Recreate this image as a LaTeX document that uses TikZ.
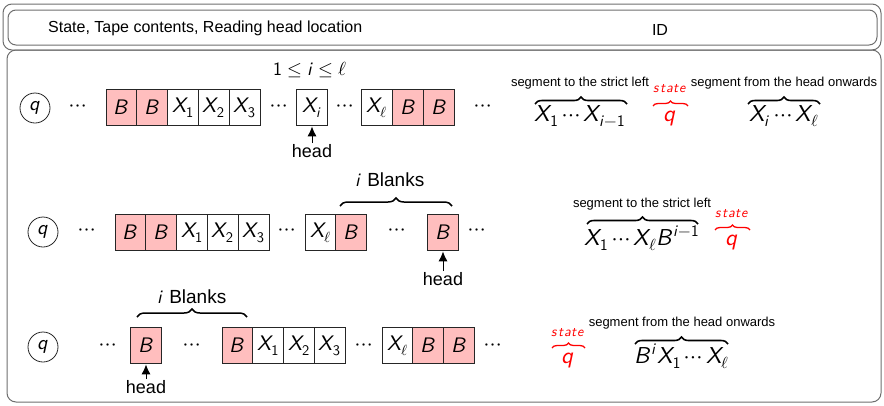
\documentclass[tikz,border=0pt]{standalone}
\usepackage{fontspec}
\usepackage{unicode-math}
\setmainfont{Liberation Sans}
\setmathfont{Latin Modern Math}
\usetikzlibrary{decorations.pathreplacing,arrows.meta}
\definecolor{blankfill}{RGB}{255,190,190}
\definecolor{framegray}{RGB}{110,110,110}
\newcommand{\tmX}{\mathsfit{X}}
\newcommand{\tmB}{\mathsfit{B}}
\newcommand{\tmi}{\mathsfit{i}}
\newcommand{\tmq}{\mathsfit{q}}
\newcommand{\tdots}{\cdots}
\tikzset{
  cell/.style={draw=black!85, line width=0.8pt, minimum width=30.8pt, minimum height=36pt, inner sep=0pt, font=\fontsize{21}{21}\selectfont},
  blankcell/.style={cell, fill=blankfill},
  stateq/.style={circle, draw=black!85, line width=0.8pt, minimum size=30pt, inner sep=0pt, font=\fontsize{20}{20}\selectfont},
  dotsnode/.style={inner sep=0pt, font=\fontsize{22}{22}\selectfont},
  headlbl/.style={inner sep=1pt, font=\fontsize{18}{18}\selectfont},
  headarrow/.style={-{Latex[length=10pt,width=9pt]}, line width=1pt, shorten >=0.5pt},
  tapebrace/.style={decorate, decoration={brace, amplitude=8pt}, line width=1.5pt},
  idbrace/.style={decorate, decoration={brace, amplitude=7pt}, line width=1.6pt},
  statebrace/.style={decorate, decoration={brace, amplitude=5pt}, line width=1.3pt, draw=red},
  blanklbl/.style={inner sep=0pt, font=\fontsize{19}{19}\selectfont},
  idmath/.style={anchor=base, inner sep=0pt, font=\fontsize{23}{23}\selectfont},
  seglbl/.style={inner sep=0pt, font=\fontsize{13}{13}\selectfont},
  statelbl/.style={inner sep=0pt, text=red, font=\fontsize{14}{14}\selectfont},
  frameline/.style={draw=framegray, line width=1pt, rounded corners=9pt}
}
\begin{document}
\begin{tikzpicture}[x=1pt,y=-1pt]
\useasboundingbox (0,0) rectangle (884,405);
% frames
\draw[frameline] (3,4) rectangle (881,50);
\draw[frameline, rounded corners=8pt] (8,10) rectangle (877,45);
\draw[frameline] (7,50) rectangle (881,402);
\node[anchor=west, font=\fontsize{16}{16}\selectfont, inner sep=0pt] (hdr) at (48,28) {State, Tape contents, Reading head location};
\node[font=\fontsize{16}{16}\selectfont, inner sep=0pt] (hid) at (660,30) {ID};

% ---------- row 1 ----------
\node[stateq] (q1) at (35,108) {$\tmq$};
\node[dotsnode] (d1a) at (78,108) {$\tdots$};
\node[blankcell] (r1c1) at (121.4,107.5) {$\tmB$};
\node[blankcell] (r1c2) at (152.2,107.5) {$\tmB$};
\node[cell] (r1c3) at (183,107.5) {$\tmX_{\mathsf{1}}$};
\node[cell] (r1c4) at (213.8,107.5) {$\tmX_{\mathsf{2}}$};
\node[cell] (r1c5) at (244.6,107.5) {$\tmX_{\mathsf{3}}$};
\node[dotsnode] (d1b) at (279,108) {$\tdots$};
\node[cell] (r1xi) at (312,107.5) {$\tmX_{\tmi}$};
\node[dotsnode] (d1c) at (345,108) {$\tdots$};
\node[cell] (r1xl) at (377,107.5) {$\tmX_{\ell}$};
\node[blankcell] (r1c6) at (407.8,107.5) {$\tmB$};
\node[blankcell] (r1c7) at (438.6,107.5) {$\tmB$};
\node[dotsnode] (d1d) at (483,108) {$\tdots$};
\node[blanklbl] (rng) at (310,70) {$\mathsf{1}\le \tmi\le \ell$};
\node[headlbl, anchor=north] (h1) at (312,143) {head};
\draw[headarrow] (h1) -- (r1xi);

\node[idmath] (l1) at (580,121) {$\tmX_{\mathsf{1}}\cdots \tmX_{\tmi-\mathsf{1}}$};
\coordinate (l1a) at (535,104); \coordinate (l1b) at (627,104);
\draw[idbrace] (l1a) -- (l1b);
\node[seglbl] (l1t) at (580,83) {segment to the strict left};
\node[idmath, text=red] (s1) at (670,121) {$\tmq$};
\coordinate (s1a) at (653,106); \coordinate (s1b) at (688,106);
\draw[statebrace] (s1a) -- (s1b);
\node[statelbl] (s1t) at (670,89) {$\mathsfit{state}$};
\node[idmath] (r1) at (784,121) {$\tmX_{\tmi}\cdots \tmX_{\ell}$};
\coordinate (r1a) at (748,104); \coordinate (r1b) at (820,104);
\draw[idbrace] (r1a) -- (r1b);
\node[seglbl] (r1t) at (784,83) {segment from the head onwards};

% ---------- row 2 ----------
\node[stateq] (q2) at (43,232) {$\tmq$};
\node[dotsnode] (d2a) at (87,232) {$\tdots$};
\node[blankcell] (r2c1) at (130.4,232.5) {$\tmB$};
\node[blankcell] (r2c2) at (161.2,232.5) {$\tmB$};
\node[cell] (r2c3) at (192,232.5) {$\tmX_{\mathsf{1}}$};
\node[cell] (r2c4) at (222.8,232.5) {$\tmX_{\mathsf{2}}$};
\node[cell] (r2c5) at (253.6,232.5) {$\tmX_{\mathsf{3}}$};
\node[dotsnode] (d2b) at (287,232) {$\tdots$};
\node[cell] (r2xl) at (320.4,232.5) {$\tmX_{\ell}$};
\node[blankcell] (r2c6) at (351.2,232.5) {$\tmB$};
\node[dotsnode] (d2c) at (397,232) {$\tdots$};
\node[blankcell] (r2c7) at (443,232.5) {$\tmB$};
\node[dotsnode] (d2d) at (477,232) {$\tdots$};
\coordinate (b2l) at (340,206);
\coordinate (b2r) at (452,206);
\draw[tapebrace] (b2l) -- (b2r);
\node[blanklbl] (bl2) at (390,180) {$\tmi$ Blanks};
\node[headlbl, anchor=north] (h2) at (443,271) {head};
\draw[headarrow] (h2) -- (r2c7);

\node[idmath] (l2) at (642,245) {$\tmX_{\mathsf{1}}\cdots \tmX_{\ell}\tmB^{\tmi-\mathsf{1}}$};
\coordinate (l2a) at (587,224); \coordinate (l2b) at (698,224);
\draw[idbrace] (l2a) -- (l2b);
\node[seglbl] (l2t) at (642,204) {segment to the strict left};
\node[idmath, text=red] (s2) at (732,245) {$\tmq$};
\coordinate (s2a) at (715,230); \coordinate (s2b) at (750,230);
\draw[statebrace] (s2a) -- (s2b);
\node[statelbl] (s2t) at (732,214) {$\mathsfit{state}$};

% ---------- row 3 ----------
\node[stateq] (q3) at (43,347) {$\tmq$};
\node[dotsnode] (d3a) at (108,347) {$\tdots$};
\node[blankcell] (r3c0) at (146,345.5) {$\tmB$};
\node[dotsnode] (d3b) at (192,347) {$\tdots$};
\node[blankcell] (r3c1) at (237.4,345.5) {$\tmB$};
\node[cell] (r3c2) at (268.2,345.5) {$\tmX_{\mathsf{1}}$};
\node[cell] (r3c3) at (299,345.5) {$\tmX_{\mathsf{2}}$};
\node[cell] (r3c4) at (329.8,345.5) {$\tmX_{\mathsf{3}}$};
\node[dotsnode] (d3c) at (364,347) {$\tdots$};
\node[cell] (r3xl) at (397.4,345.5) {$\tmX_{\ell}$};
\node[blankcell] (r3c5) at (428.2,345.5) {$\tmB$};
\node[blankcell] (r3c6) at (459,345.5) {$\tmB$};
\node[dotsnode] (d3d) at (493,347) {$\tdots$};
\coordinate (b3l) at (137,317);
\coordinate (b3r) at (247,317);
\draw[tapebrace] (b3l) -- (b3r);
\node[blanklbl] (bl3) at (192,297) {$\tmi$ Blanks};
\node[headlbl, anchor=north] (h3) at (146,379) {head};
\draw[headarrow] (h3) -- (r3c0);

\node[idmath, text=red] (s3) at (568,363) {$\tmq$};
\coordinate (s3a) at (552,348); \coordinate (s3b) at (585,348);
\draw[statebrace] (s3a) -- (s3b);
\node[statelbl] (s3t) at (568,333) {$\mathsfit{state}$};
\node[idmath] (l3) at (682,363) {$\tmB^{\tmi}\tmX_{\mathsf{1}}\cdots \tmX_{\ell}$};
\coordinate (l3a) at (635,344); \coordinate (l3b) at (728,344);
\draw[idbrace] (l3a) -- (l3b);
\node[seglbl] (l3t) at (682,323) {segment from the head onwards};
\end{tikzpicture}
\end{document}
